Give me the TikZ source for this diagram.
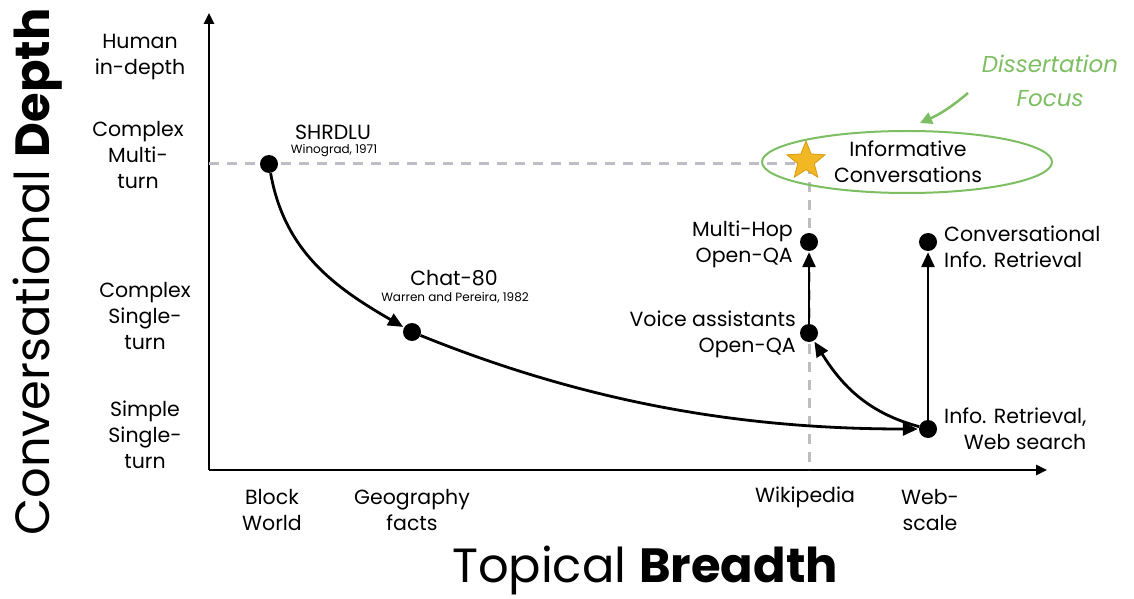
\documentclass[tikz,border=0pt]{standalone}
\usepackage{fontspec}
\setmainfont{Poppins}
\usetikzlibrary{arrows.meta,shapes.geometric}
\definecolor{dgray}{HTML}{BDBDC3}
\definecolor{fgreen}{HTML}{7DBE63}
\definecolor{gold}{HTML}{F2B824}
\definecolor{golddark}{HTML}{D8980E}
\tikzset{
  lab/.style={font=\fontsize{20.5}{26}\selectfont, align=center, inner sep=0pt},
  small/.style={font=\fontsize{12}{14}\selectfont, inner sep=0pt},
  dot/.style={circle, fill=black, minimum size=18pt, inner sep=0pt},
  axis/.style={line width=2.5pt, -{Triangle[length=11pt,width=10pt]}},
  link/.style={line width=2.8pt, -{Triangle[length=15pt,width=13pt]}, shorten >=1pt},
  guide/.style={dgray, line width=3pt, dash pattern=on 10pt off 8pt},
}
\begin{document}
\begin{tikzpicture}[x=1pt,y=1pt]
\useasboundingbox (0,0) rectangle (1134,598);
% axes
\coordinate (O) at (209,128);
\coordinate (ytop) at (209,585);
\coordinate (xend) at (1047,128);
\draw[axis] (O) -- (ytop);
\draw[axis] (O) -- (xend);
% guide lines
\coordinate (gl) at (209,434);
\coordinate (gs) at (808,434);
\coordinate (gb) at (809,128);
\draw[guide] (gl) -- (gs);
\draw[guide] (809,434) -- (gb);
% ellipse
\node[draw=fgreen, line width=2pt, ellipse, minimum width=290pt, minimum height=62pt] (ell) at (907,436) {};
% star
\node[star, star points=5, star point ratio=2.3, fill=gold, draw=golddark, line width=0.8pt, minimum size=40pt, inner sep=0pt] (star) at (806,437) {};
% dots
\node[dot] (shrdlu) at (269,434) {};
\node[dot] (chat) at (412,266) {};
\node[dot] (ir) at (928,169) {};
\node[dot] (voice) at (809,265) {};
\node[dot] (multi) at (809,356) {};
\node[dot] (convir) at (928,356) {};
% connectors
\draw[link] (shrdlu) to[out=-80, in=150] (chat);
\draw[link] (chat) to[out=-22, in=180, looseness=0.9] (ir);
\draw[link] (ir) to[out=165, in=-58] (voice);
\draw[link] (voice) -- (multi);
\draw[link] (ir) -- (convir);
% green annotation
\node[lab, text=fgreen, font=\fontsize{23}{34}\selectfont\itshape] (focus) at (1050,517) {Dissertation\\Focus};
\coordinate (fa) at (968,505);
\coordinate (fb) at (920,475);
\draw[fgreen, line width=2.5pt, -{Triangle[length=12pt,width=12pt]}] (fa) to[bend left=8] (fb);
% y labels
\node[lab] (yl1) at (140,541) {Human\\in-depth};
\node[lab] (yl2) at (138,443) {Complex\\Multi-\\turn};
\node[lab] (yl3) at (145,282) {Complex\\Single-\\turn};
\node[lab] (yl4) at (145,163) {Simple\\Single-\\turn};
% x labels
\node[lab] (xl1) at (272,88) {Block\\World};
\node[lab] (xl2) at (412,88) {Geography\\facts};
\node[lab] (xl3) at (805,101) {Wikipedia};
\node[lab] (xl4) at (930,88) {Web-\\scale};
% point labels
\node[lab] (tshrdlu) at (333,466) {SHRDLU};
\node[small] (cshrdlu) at (334,447) {Winograd, 1971};
\node[lab] (tchat) at (454,320) {Chat-80};
\node[small] (cchat) at (455,300) {Warren and Pereira, 1982};
\node[lab, align=right, anchor=east] (tmulti) at (793,354) {Multi-Hop\\Open-QA};
\node[lab, align=right, anchor=east] (tvoice) at (796,264) {Voice assistants\\Open-QA};
\node[lab, align=left, anchor=west] (tconv) at (944,351) {Conversational\\Info. Retrieval};
\node[lab, align=right, anchor=west] (tir) at (944,169) {Info. Retrieval,\\Web search};
\node[lab] (tinfo) at (908,436) {Informative\\Conversations};
% axis titles
\node[inner sep=0pt, font=\fontsize{48}{54}\selectfont] (xt) at (645,28) {Topical \textbf{Breadth}};
\node[inner sep=0pt, font=\fontsize{48}{54}\selectfont, rotate=90] (yt) at (38,326) {Conversational \textbf{Depth}};
\end{tikzpicture}
\end{document}
